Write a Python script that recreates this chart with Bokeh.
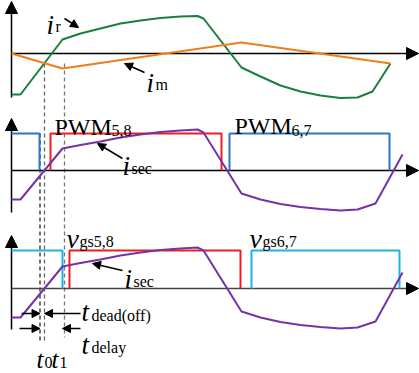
from bokeh.plotting import figure
from bokeh.models import Range1d, Label, Arrow, NormalHead
from bokeh.embed import file_html
from bokeh.resources import INLINE

# ---- waveform data (time in arbitrary units, amplitude relative to each trace's zero line)
ir_t = [0, 9, 51, 69, 89, 109, 129, 149, 169, 186, 192, 230, 249, 269, 289, 309, 329, 346, 361, 379]
ir_v = [-41, -41, 14, 20, 25, 30, 33, 35.5, 37, 37.5, 35, -14, -23, -32, -38, -42, -44.5, -44, -38, -10]

im_t = [0, 51, 230, 379]
im_v = [0, -15, 11, -10]

isec_t = [0, 9, 51, 69, 89, 109, 129, 149, 169, 186, 192, 230, 249, 269, 289, 309, 329, 346, 364, 391]
isec_v = [-29, -29, 22, 25.5, 29, 33, 36, 38.5, 40, 41, 38, -23, -29, -33.5, -36.5, -38.5, -40, -39, -33, 16]

# gate pulses: (on, off) edges
pwm67_pulses = [(0, 28), (218, 378)]
pwm58_pulses = [(39, 210)]
pwm_high = 37
vgs67_pulses = [(0, 51), (240, 388)]
vgs58_pulses = [(58, 229)]
vgs_high = 38

# marked instants
t_dead_a, t_dead_b = 28.5, 33
t_one = 51

# ---- layout constants
W, H = 419, 373
X0 = 11
B1, B2, B3 = 320, 203, 85
SERIF = "Liberation Serif"

GREEN = "#1a7f3c"
ORANGE = "#f07d1c"
BLUE = "#2a78c0"
RED = "#ee1c24"
PURPLE = "#7533a6"
CYAN = "#1cb2e8"

p = figure(width=W, height=H, x_range=Range1d(-X0, W - X0), y_range=Range1d(0, H),
           output_backend="svg", toolbar_location=None, min_border=0)
p.axis.visible = False
p.grid.visible = False
p.outline_line_color = None
p.background_fill_color = "white"
p.border_fill_color = "white"


def shifted(vals, base):
    return [v + base for v in vals]


def pulse_line(pulses, high, base, color):
    for on, off in pulses:
        xs, ys = [], []
        if on > 0:
            xs += [on]
            ys += [base]
        xs += [on, off, off]
        ys += [base + high, base + high, base]
        p.line(xs, ys, line_color=color, line_width=2)


def axes(base, bottom, top, hcolor="black"):
    p.line([0, 0], [bottom, top - 4], line_color="black", line_width=1.5)
    p.add_layout(Arrow(x_start=0, y_start=top - 10, x_end=0, y_end=top, line_width=1.5,
                       end=NormalHead(size=12, fill_color="black", line_color="black")))
    p.line([0, 400], [base, base], line_color=hcolor, line_width=1.5)
    p.add_layout(Arrow(x_start=395, y_start=base, x_end=407, y_end=base, line_width=1.5,
                       end=NormalHead(size=12, fill_color="black", line_color="black")))


def label(x, y, main, sub, size=27, sub_size=16, italic=True, sub_dx=None, sub_dy=4):
    p.add_layout(Label(x=x, y=y, text=main, text_font=SERIF, text_font_size=f"{size}px",
                       text_font_style="italic" if italic else "normal",
                       text_baseline="alphabetic", text_color="black"))
    if sub:
        p.add_layout(Label(x=x + sub_dx, y=y - sub_dy, text=sub, text_font=SERIF,
                           text_font_size=f"{sub_size}px", text_baseline="alphabetic",
                           text_color="black"))


def pointer(x0, y0, x1, y1, size=8):
    p.add_layout(Arrow(x_start=x0, y_start=y0, x_end=x1, y_end=y1, line_width=1.5,
                       end=NormalHead(size=size, fill_color="black", line_color="black")))


# ---- dashed guide lines
p.line([t_one + 2, t_one + 2], [B1 - 10, 36], line_color="#777777", line_width=1.3, line_dash="4 3")
p.line([t_dead_b, t_dead_b], [B1 - 10, 32], line_color="#666666", line_width=1.3, line_dash="4 3")
p.line([t_dead_a, t_dead_a], [B2 + pwm_high, 32], line_color="#222222", line_width=1.3, line_dash="4 3")

# ---- panel 1: resonant and magnetizing currents
axes(B1, B1 - 44, H - 1)
p.line(ir_t, shifted(ir_v, B1), line_color=GREEN, line_width=2)
p.line(im_t, shifted(im_v, B1), line_color=ORANGE, line_width=2)
label(35, H - 24, "i", "r", sub_dx=9, sub_dy=2)
pointer(53, H - 18, 67, H - 27)
label(135, H - 82, "i", "m", sub_dx=9, sub_dy=2)
pointer(133, H - 72, 113, H - 63)

# ---- panel 2: PWM signals and secondary current
axes(B2, B2 - 42, H - 118)
pulse_line(pwm67_pulses, pwm_high, B2, BLUE)
pulse_line(pwm58_pulses, pwm_high, B2, RED)
p.line(isec_t, shifted(isec_v, B2), line_color=PURPLE, line_width=2)
label(43, H - 126, "PWM", "5,8", size=24, italic=False, sub_dx=57, sub_dy=4)
label(223, H - 125, "PWM", "6,7", size=24, italic=False, sub_dx=57, sub_dy=5)
label(111, H - 165, "i", "sec", sub_dx=9, sub_dy=3)
pointer(111, H - 158, 86, H - 143)

# ---- panel 3: gate voltages and secondary current
axes(B3, B3 - 41, H - 235, hcolor="#444444")
pulse_line(vgs67_pulses, vgs_high, B3, CYAN)
pulse_line(vgs58_pulses, vgs_high, B3, RED)
p.line(isec_t, shifted(isec_v, B3), line_color=PURPLE, line_width=2)
label(55, H - 238, "v", "gs5,8", size=28, sub_dx=13, sub_dy=3)
label(238, H - 238, "v", "gs6,7", size=28, sub_dx=13, sub_dy=3)
label(113, H - 278, "i", "sec", sub_dx=9, sub_dy=3)
pointer(111, H - 270, 81, H - 263)

# ---- timing annotations
pointer(10, H - 313, t_dead_a, H - 313)
pointer(69, H - 313, t_dead_b, H - 313)
pointer(8, H - 328, t_dead_a, H - 328)
pointer(69, H - 328, t_one, H - 328)
label(70, H - 311, "t", "dead(off)", sub_dx=10, sub_dy=4)
label(70, H - 344, "t", "delay", sub_dx=10, sub_dy=3)
label(25, H - 359, "t", "0", size=25, sub_dx=8, sub_dy=3)
label(40, H - 359, "t", "1", size=25, sub_dx=8, sub_dy=3)

open("out.html", "w").write(file_html(p, INLINE))
